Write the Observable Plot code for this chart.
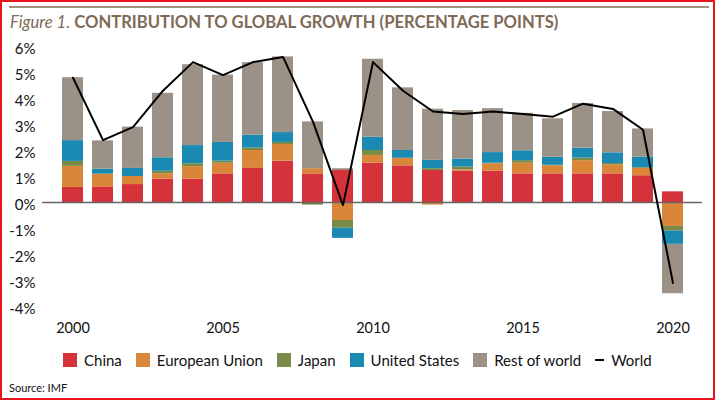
<!DOCTYPE html>
<html>
<head>
<meta charset="utf-8">
<script src="https://cdn.jsdelivr.net/npm/d3@7"></script>
<script src="https://cdn.jsdelivr.net/npm/@observablehq/plot@0.6"></script>
<style>
  html, body { margin: 0; padding: 0; background: #fff; }
  #wrap { position: relative; width: 716px; height: 402px; overflow: hidden; background: #fff; font-family: Lato, "Open Sans", sans-serif; }
  #frame { position: absolute; left: 0; top: 0; width: 715px; height: 400px; box-sizing: border-box; border: 2px solid #e8141b; pointer-events: none; }
  #rule { position: absolute; left: 9px; top: 6px; width: 700px; height: 2px; background: #a39280; }
  #title { position: absolute; left: 10px; top: 12px; font-size: 16.6px; color: #7e6a57; white-space: nowrap; }
  #title i { font-style: italic; font-weight: 400; }
  #title b { font-weight: 700; }
  #chart { position: absolute; left: 0; top: 0; }
  #legend { position: absolute; left: 63px; top: 351px; display: flex; align-items: center; font-size: 15px; color: #111; white-space: nowrap; }
  .item { display: flex; align-items: center; margin-right: 14px; }
  .sw { width: 14px; height: 14px; margin-right: 7px; }
  .dash { width: 9px; height: 2px; background: #000; margin-right: 7px; }
  #source { position: absolute; left: 9px; top: 381px; font-size: 11px; color: #111; }
</style>
</head>
<body>
<div id="wrap">
  <div id="rule"></div>
  <div id="title"><i>Figure 1.</i> <b>CONTRIBUTION TO GLOBAL GROWTH (PERCENTAGE POINTS)</b></div>
  <div id="chart"></div>
  <div id="legend"></div>
  <div id="source">Source: IMF</div>
  <div id="frame"></div>
</div>
<script>
const years = [2000,2001,2002,2003,2004,2005,2006,2007,2008,2009,2010,2011,2012,2013,2014,2015,2016,2017,2018,2019,2020];
const china = [0.58,0.60,0.69,0.90,0.90,1.10,1.31,1.59,1.10,1.23,1.51,1.41,1.23,1.21,1.21,1.10,1.10,1.10,1.10,1.03,0.41];
const eu    = [0.81,0.49,0.31,0.20,0.48,0.41,0.69,0.64,0.20,-0.69,0.30,0.29,-0.10,0.05,0.28,0.41,0.31,0.51,0.35,0.28,-0.92];
const japan = [0.19,0.00,0.00,0.10,0.11,0.08,0.10,0.08,-0.10,-0.30,0.19,-0.02,0.07,0.10,0.02,0.10,0.02,0.10,0.05,0.03,-0.18];
const us    = [0.80,0.19,0.31,0.52,0.70,0.72,0.49,0.38,0.00,-0.39,0.51,0.30,0.32,0.31,0.41,0.38,0.31,0.38,0.41,0.41,-0.51];
const rest  = [2.42,1.09,1.59,2.48,3.11,2.59,2.79,2.91,1.80,0.07,3.00,2.41,1.97,1.87,1.69,1.44,1.48,1.72,1.59,1.08,-1.90];
const world = [4.8,2.4,2.9,4.3,5.4,4.9,5.4,5.6,3.1,-0.1,5.4,4.3,3.5,3.4,3.5,3.4,3.3,3.8,3.6,2.8,-3.1];

const seriesNames = ["China","European Union","Japan","United States","Rest of world"];
const seriesColors = ["#d5323c","#da8638","#7a8a47","#1b8ab3","#9c9186"];
const yTicks = [-4,-3,-2,-1,0,1,2,3,4,5,6];
const xTicks = [2000,2005,2010,2015,2020];

const seriesValues = [china, eu, japan, us, rest];
const rows = seriesNames.flatMap((name, s) => years.map((year, i) => ({year, series: name, value: seriesValues[s][i]})));
const worldRows = years.map((year, i) => ({year, value: world[i]}));

const chart = Plot.plot({
  width: 716,
  height: 345,
  marginLeft: 42,
  marginRight: 14,
  marginTop: 46,
  marginBottom: 39,
  style: {fontFamily: "Lato, 'Open Sans', sans-serif", fontSize: "15px", color: "#111", background: "transparent"},
  x: {type: "band", domain: years, padding: 0.3, axis: null},
  y: {domain: [-4, 6], axis: null},
  color: {domain: seriesNames, range: seriesColors},
  marks: [
    Plot.barY(rows, {x: "year", y: "value", fill: "series"}),
    Plot.ruleY([0], {stroke: "#666", strokeWidth: 1.5}),
    Plot.lineY(worldRows, {x: "year", y: "value", stroke: "#000", strokeWidth: 2}),
    Plot.axisY({ticks: yTicks, tickFormat: d => d + "%", tickSize: 0, tickPadding: 7, fontSize: 15, dy: 3, label: null}),
    Plot.axisX({ticks: xTicks, tickFormat: d => String(d), tickSize: 0, tickPadding: 16, fontSize: 14.5, label: null})
  ]
});
document.getElementById("chart").appendChild(chart);

const legend = document.getElementById("legend");
seriesNames.forEach((name, i) => {
  const it = document.createElement("div");
  it.className = "item";
  it.innerHTML = `<span class="sw" style="background:${seriesColors[i]}"></span><span>${name}</span>`;
  legend.appendChild(it);
});
const w = document.createElement("div");
w.className = "item";
w.innerHTML = `<span class="dash"></span><span>World</span>`;
legend.appendChild(w);
</script>
</body>
</html>
